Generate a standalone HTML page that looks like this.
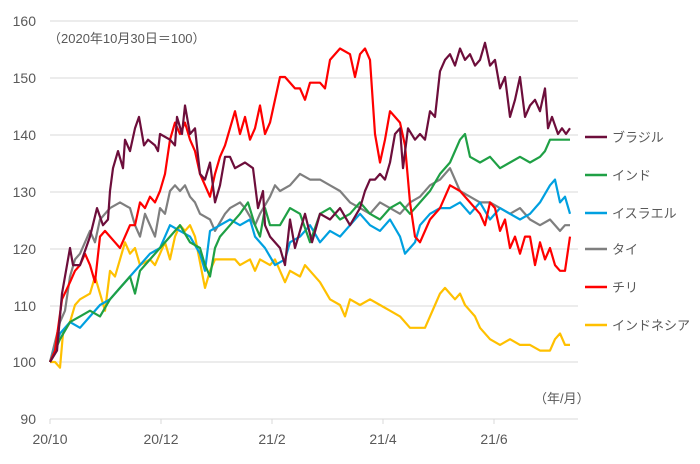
<!DOCTYPE html>
<html><head><meta charset="utf-8"><style>
body{margin:0;background:#fff;}
svg text{font-family:"Liberation Sans","Noto Sans CJK JP",sans-serif;fill:#595959;}
</style></head><body>
<svg id="c" width="700" height="459" xmlns="http://www.w3.org/2000/svg">
<g stroke="#d9d9d9" stroke-width="1">
<line x1="50" x2="578" y1="21" y2="21"/><line x1="50" x2="578" y1="78" y2="78"/>
<line x1="50" x2="578" y1="135" y2="135"/><line x1="50" x2="578" y1="192" y2="192"/>
<line x1="50" x2="578" y1="249" y2="249"/><line x1="50" x2="578" y1="306" y2="306"/>
<line x1="50" x2="578" y1="362" y2="362"/><line x1="50" x2="578" y1="419" y2="419"/>
<line x1="50" x2="50" y1="419" y2="424"/><line x1="161" x2="161" y1="419" y2="424"/>
<line x1="272" x2="272" y1="419" y2="424"/><line x1="383" x2="383" y1="419" y2="424"/>
<line x1="494" x2="494" y1="419" y2="424"/>
</g>
<g font-size="14" text-anchor="end">
<text x="36" y="26">160</text><text x="36" y="83">150</text><text x="36" y="140">140</text>
<text x="36" y="197">130</text><text x="36" y="254">120</text><text x="36" y="311">110</text>
<text x="36" y="367">100</text><text x="36" y="424">90</text>
</g>
<g font-size="14" text-anchor="middle">
<text x="50" y="444">20/10</text><text x="161" y="444">20/12</text><text x="272" y="444">21/2</text>
<text x="383" y="444">21/4</text><text x="494" y="444">21/6</text>
</g>
<text x="48" y="43" font-size="13">（2020年10月30日＝100）</text>
<text x="534" y="403" font-size="13">（年/月）</text>
<g id="series" fill="none" stroke-width="2.2" stroke-linejoin="round"></g>
<g font-size="13">
<line x1="585" x2="607" y1="137" y2="137" stroke="#6D0E3B" stroke-width="2.5"/><text x="612" y="142">ブラジル</text>
<line x1="585" x2="607" y1="175" y2="175" stroke="#1FA045" stroke-width="2.5"/><text x="612" y="180">インド</text>
<line x1="585" x2="607" y1="213" y2="213" stroke="#00A0E0" stroke-width="2.5"/><text x="612" y="218">イスラエル</text>
<line x1="585" x2="607" y1="249" y2="249" stroke="#7F7F7F" stroke-width="2.5"/><text x="612" y="254">タイ</text>
<line x1="585" x2="607" y1="287" y2="287" stroke="#FF0000" stroke-width="2.5"/><text x="612" y="292">チリ</text>
<line x1="585" x2="607" y1="325" y2="325" stroke="#FFC000" stroke-width="2.5"/><text x="612" y="330">インドネシア</text>
</g>
</svg>
<script>
var S=[
["#7F7F7F","50:100,60:107,65:109,70:115,75:118,80:119,85:121,90:123,95:121,100:125,110:127,120:128,130:127,135:124,140:122,145:126,150:124,155:122,160:127,165:126,170:130,175:131,180:130,185:131,190:129,195:128,200:126,210:125,215:123,225:126,230:127,240:128,245:127,255:124,260:126,270:129,275:131,280:130,290:131,300:133,310:132,320:132,330:131,340:130,350:128,360:127,370:126,380:128,390:127,400:126,410:128,420:129,430:131,440:132,450:134,455:132,460:130,470:129,480:128,490:128,500:127,510:126,520:127,530:125,540:124,550:125,560:123,565:124,570:124"],
["#FFC000","50:100,55:100,60:99,63:105,70:107,75:110,80:111,90:112,95:115,100:112,105:109,110:116,115:115,120:118,125:121,130:119,135:120,140:117,150:118,155:117,160:119,165:121,170:118,175:122,180:124,185:123,190:124,195:122,205:113,210:116,215:118,225:118,235:118,240:117,250:118,255:116,260:118,270:117,275:118,280:116,285:114,290:116,300:115,305:117,310:116,320:114,330:111,340:110,345:108,350:111,360:110,370:111,380:110,390:109,400:108,410:106,420:106,425:106,430:108,435:110,440:112,445:113,450:112,455:111,460:112,465:110,470:109,475:108,480:106,490:104,500:103,510:104,520:103,530:103,540:102,545:102,550:102,555:104,560:105,565:103,570:103"],
["#00A0E0","50:100,60:105,70:107,80:106,90:108,100:110,110:111,120:113,130:115,140:117,150:119,160:120,170:124,180:123,190:122,200:119,205:116,210:123,220:124,230:125,240:124,250:125,255:122,265:120,275:117,285:118,290:121,300:122,310:124,320:121,330:123,340:122,350:124,360:126,370:124,380:123,390:125,400:122,405:119,410:120,415:121,420:124,430:126,440:127,450:127,460:128,470:126,480:128,490:125,500:127,510:126,520:125,530:126,540:128,550:131,555:132,560:128,565:129,570:126"],
["#1FA045","50:100,60:104,70:107,80:108,90:109,100:108,110:111,120:113,130:115,135:112,140:116,150:118,160:120,170:122,180:124,190:121,200:120,205:117,210:115,215:120,220:122,230:124,240:126,248:128,255:124,260:122,265:127,270:124,280:124,290:127,300:126,310:121,320:126,330:127,340:125,350:126,360:128,370:126,380:125,390:127,400:128,410:126,420:128,430:130,440:133,450:135,460:139,465:140,470:136,480:135,490:136,500:134,510:135,520:136,530:135,540:136,545:137,550:139,555:139,560:139,570:139"],
["#FF0000","50:100,55:102,62:111,70:114,75:116,80:117,85:119,90:117,95:114,100:122,105:123,110:122,115:121,120:120,125:122,130:124,135:124,140:128,145:127,150:129,155:128,160:130,165:133,170:139,175:142,180:140,185:142,190:139,195:137,200:133,205:131,210:129,215:133,220:136,225:138,230:141,235:144,240:140,245:143,250:139,255:141,260:145,265:140,270:142,280:150,285:150,295:148,300:148,305:146,310:149,320:149,325:148,330:153,340:155,350:154,355:150,360:154,365:155,370:153,375:140,380:135,385:139,390:144,395:143,400:142,405:138,410:128,415:122,420:121,430:125,440:127,450:131,460:130,470:128,480:126,485:124,490:128,495:127,500:123,505:125,510:120,515:122,520:119,525:122,530:122,535:117,540:121,545:118,550:120,555:117,560:116,565:116,570:122"],
["#6D0E3B","50:100,57:102,62:112,70:120,73:117,80:117,90:122,97:127,103:124,108:125,110:130,113:134,118:137,123:134,125:139,130:137,135:141,139:143,144:138,148:139,155:138,158:137,160:140,170:139,175:138,177:143,182:140,185:145,190:140,195:141,200:133,205:132,210:135,215:128,220:131,225:136,230:136,235:134,245:135,253:134,258:127,263:130,265:124,270:122,280:120,285:117,290:125,295:120,305:126,312:121,320:126,330:125,340:127,350:124,360:127,365:130,370:132,375:132,380:133,385:132,390:135,395:140,400:141,403:134,408:141,415:139,420:140,425:139,430:144,435:143,440:151,445:153,450:154,455:152,460:155,465:153,470:154,475:152,480:153,485:156,490:152,495:153,500:148,505:150,510:143,515:146,520:150,525:143,530:145,535:146,540:144,545:148,548:141,552:143,558:140,562:141,566:140,570:141"]];
var g=document.getElementById("series"),ns="http://www.w3.org/2000/svg";
S.forEach(function(s){var p=s[1].split(",").map(function(t){var a=t.split(":");return (+a[0])+","+(362-(a[1]-100)*5.7).toFixed(1);}).join(" ");
var e=document.createElementNS(ns,"polyline");e.setAttribute("points",p);e.setAttribute("stroke",s[0]);g.appendChild(e);});
</script>
</body></html>
